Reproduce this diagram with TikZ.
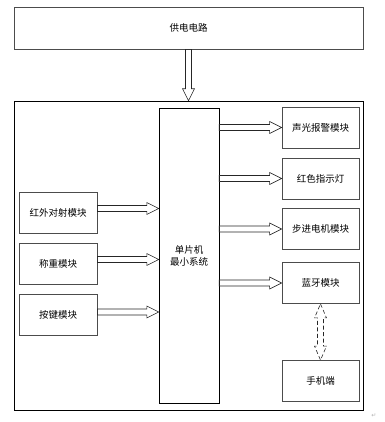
\documentclass[tikz,border=0pt]{standalone}
\usepackage{fontspec}
\newfontfamily\cjk{Noto Sans CJK SC}
\newfontfamily\symfont{DejaVu Sans}
\usetikzlibrary{calc}

\begin{document}
\begin{tikzpicture}[x=1pt,y=-1pt,
 block/.style={rectangle,draw=black!70,thick,fill=white,minimum width=77pt,minimum height=41pt,inner sep=0pt,font=\cjk\fontsize{9.5}{12}\selectfont},
 hollow/.style={draw=black!85,line width=0.6pt,line join=miter,to path={
   let \p1=(\tikztostart), \p2=(\tikztotarget), \p3=($(\p2)!12pt!(\p1)$) in
   ($(\p1)!3pt!90:(\p2)$) -- ($(\p3)!3pt!-90:(\p1)$) -- ($(\p3)!6pt!-90:(\p1)$) -- (\p2)
   -- ($(\p3)!6pt!90:(\p1)$) -- ($(\p3)!3pt!90:(\p1)$) -- ($(\p1)!3pt!-90:(\p2)$) -- cycle}},
 wireless/.style={draw=black!85,line width=0.6pt,dash pattern=on 4pt off 2.5pt,to path={
   let \p1=(\tikztostart), \p2=(\tikztotarget), \p3=($(\p1)!14pt!(\p2)$), \p4=($(\p2)!14pt!(\p1)$) in
   (\p1) -- ($(\p3)!6pt!90:(\p2)$) -- ($(\p3)!3pt!90:(\p2)$) -- ($(\p4)!3pt!-90:(\p1)$) -- ($(\p4)!6pt!-90:(\p1)$) -- (\p2)
   -- ($(\p4)!6pt!90:(\p1)$) -- ($(\p4)!3pt!90:(\p1)$) -- ($(\p3)!3pt!-90:(\p2)$) -- ($(\p3)!6pt!-90:(\p2)$) -- cycle}}
]
\useasboundingbox (0,0) rectangle (384,422);
\node[block,minimum width=349pt,minimum height=42pt] (power) at (188.5,28) {供电电路};
\node[draw=black,thin,minimum width=349pt,minimum height=309pt,inner sep=0pt] (board) at (188.5,255.5) {};
\node[block,draw=black,thin,minimum width=60pt,minimum height=295pt,align=center] (mcu) at (189,255.5) {单片机\\最小系统};
\node[block] (alarm) at (320.5,127.5) {声光报警模块};
\node[block] (led) at (320.5,178.5) {红色指示灯};
\node[block] (motor) at (320.5,229) {步进电机模块};
\node[block] (bt) at (320.5,283) {蓝牙模块};
\node[block] (phone) at (320.5,381) {手机端};
\node[block,minimum width=78pt] (ir) at (58,212.5) {红外对射模块};
\node[block,minimum width=78pt] (weigh) at (58,263.5) {称重模块};
\node[block,minimum width=78pt] (keys) at (58,315) {按键模块};
% power supply into the board
\draw[hollow] (power.south) to (board.north);
% inputs
\foreach \src/\dy in {ir/4,weigh/4,keys/3}{
  \coordinate (\src-out) at ([yshift=\dy pt]\src.east);
  \coordinate (\src-in) at (\src-out -| mcu.west);
  \draw[hollow] (\src-out) to (\src-in);
}
% outputs
\foreach \dst in {alarm,led,motor,bt}{
  \coordinate (\dst-in) at (mcu.east |- \dst);
  \draw[hollow] (\dst-in) to (\dst.west);
}
\draw[wireless] (bt.south) to (phone.north);
\node[text=black!30,font=\symfont\fontsize{6}{7}\selectfont] (pilcrow) at (374,416) {↵};
\end{tikzpicture}
\end{document}
